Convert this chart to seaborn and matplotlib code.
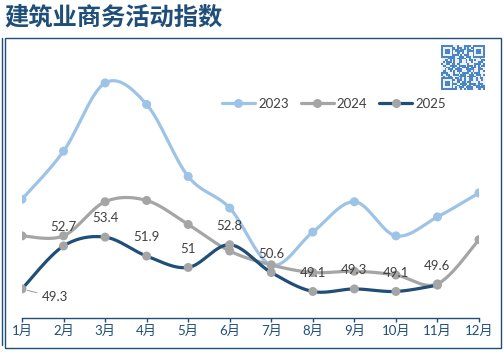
import hashlib
import numpy as np
import pandas as pd
import seaborn as sns
import matplotlib.pyplot as plt
from matplotlib.lines import Line2D
from matplotlib.patches import Rectangle

# ------------------------------------------------------------
# data
# ------------------------------------------------------------
months = [f"{i}月" for i in range(1, 13)]
years = ["2023", "2024", "2025"]
pmi_2023 = [56.4, 60.2, 65.6, 63.9, 58.2, 55.7, 51.2, 53.8, 56.2, 53.5, 55.0, 56.9]
pmi_2024 = [53.5, 53.5, 56.2, 56.3, 54.4, 52.3, 51.2, 50.6, 50.7, 50.4, 49.7, 53.2]
pmi_2025 = [49.3, 52.7, 53.4, 51.9, 51.0, 52.8, 50.6, 49.1, 49.3, 49.1, 49.6]

NAVY = "#1F4E79"
colors = {"2023": "#9DC3E6", "2024": "#A5A5A5", "2025": "#1F4E79"}
marker_colors = {"2023": "#9DC3E6", "2024": "#A5A5A5", "2025": "#A5A5A5"}

sns.set_theme(style="white")
plt.rcParams["font.family"] = ["Lato", "Noto Sans CJK SC", "DejaVu Sans"]


def smooth(vals, n=30):
    # excel-style smoothed line (bezier through the points)
    y = np.asarray(vals, float)
    x = np.arange(len(y), dtype=float)
    py = np.concatenate([[y[0]], y, [y[-1]]])
    px = np.concatenate([[x[0]], x, [x[-1]]])
    xs, ys = [], []
    t = np.linspace(0, 1, n, endpoint=False)[:, None]
    for i in range(len(y) - 1):
        P = []
        for p in (px, py):
            b0 = p[i + 1]
            b1 = p[i + 1] + (p[i + 2] - p[i]) / 6
            b2 = p[i + 2] - (p[i + 3] - p[i + 1]) / 6
            b3 = p[i + 2]
            P.append(((1 - t) ** 3 * b0 + 3 * (1 - t) ** 2 * t * b1
                      + 3 * (1 - t) * t ** 2 * b2 + t ** 3 * b3).ravel())
        xs.append(P[0])
        ys.append(P[1])
    xs.append([x[-1]])
    ys.append([y[-1]])
    return np.concatenate(xs), np.concatenate(ys)


series = {"2023": pmi_2023, "2024": pmi_2024, "2025": pmi_2025}
curves = []
points = []
for yr, vals in series.items():
    sx, sy = smooth(vals)
    curves.append(pd.DataFrame({"x": sx, "y": sy, "year": yr}))
    points.append(pd.DataFrame({"x": np.arange(len(vals)), "y": vals, "year": yr}))
curves = pd.concat(curves, ignore_index=True)
points = pd.concat(points, ignore_index=True)

fig = plt.figure(figsize=(5.04, 3.52), dpi=100)
ax = fig.add_axes([22 / 504, 1 - 318 / 352, (479 - 22) / 504, (318 - 40) / 352])

for yr in years:
    c = curves[curves.year == yr]
    p = points[points.year == yr]
    sns.lineplot(data=c, x="x", y="y", sort=False, color=colors[yr],
                 lw=2.3, ax=ax, zorder=2, estimator=None)
    sns.scatterplot(data=p, x="x", y="y", color=marker_colors[yr], s=42,
                    edgecolor="none", ax=ax, zorder=3)

# data labels for 2025
for i, v in enumerate(pmi_2025):
    lab = f"{v:g}"
    if i == 0:
        ax.annotate(lab, (i, v), xytext=(14, -6), textcoords="offset points",
                    ha="left", va="center", fontsize=9.5, color="#404040",
                    arrowprops=dict(arrowstyle="-", color="#A5A5A5", lw=0.8,
                                    shrinkA=1, shrinkB=4), zorder=5)
    else:
        ax.annotate(lab, (i, v), xytext=(0, 13.5), textcoords="offset points",
                    ha="center", va="center", fontsize=9.5, color="#404040", zorder=5)

ax.set_xlim(0, 11)
ax.set_ylim(47, 69)
ax.set_xticks(range(12))
ax.set_xticklabels(months)
ax.set_yticks([])
ax.set_xlabel("")
ax.set_ylabel("")
for s in ["left", "top", "right"]:
    ax.spines[s].set_visible(False)
ax.spines["bottom"].set_color(NAVY)
ax.spines["bottom"].set_linewidth(1.0)
ax.tick_params(axis="x", direction="out", length=3, width=1.0, color=NAVY,
               labelcolor=NAVY, labelsize=9.5, pad=2, bottom=True)
ax.patch.set_alpha(0)

handles = [Line2D([], [], color=colors[yr], lw=2.3, marker="o", markersize=6.5,
                  markerfacecolor=marker_colors[yr], markeredgecolor="none")
           for yr in years]
fig.legend(handles, years, loc="center", bbox_to_anchor=(334 / 504, 1 - 104 / 352),
           ncol=3, frameon=False, fontsize=9.5, handlelength=2.5,
           columnspacing=0.9, handletextpad=0.25, labelcolor="#404040")

# title and frame
fig.text(4 / 504, 1 - 18 / 352, "建筑业商务活动指数", fontsize=17.5, fontweight="bold",
         color=NAVY, ha="left", va="center", family=["Noto Sans CJK SC"])
fig.patches.append(Rectangle((4.5 / 504, 4 / 352), (501 - 4.5) / 504, (348 - 38) / 352,
                             transform=fig.transFigure, fill=False, edgecolor=NAVY,
                             lw=1.0, zorder=0))
fig.lines.append(Line2D([1.5 / 504, 1.5 / 504], [1 - 38 / 352, 1 - 345 / 352],
                        transform=fig.transFigure, color=NAVY, lw=1.0))

# qr code stand-in
bits = np.unpackbits(np.frombuffer(hashlib.sha256(b"qr").digest() * 3, dtype=np.uint8))
qr = bits[:625].reshape(25, 25).astype(float)
for r, c in [(0, 0), (0, 18), (18, 0)]:
    qr[r:r + 7, c:c + 7] = 1
    qr[r + 1:r + 6, c + 1:c + 6] = 0
    qr[r + 2:r + 5, c + 2:c + 5] = 1
qax = fig.add_axes([441 / 504, 1 - 90 / 352, 44 / 504, 45 / 352])
qax.imshow(qr, cmap=sns.light_palette("#4A86C5", as_cmap=True), interpolation="nearest",
           aspect="auto")
qax.axis("off")

fig.savefig("out.png", dpi=100)
